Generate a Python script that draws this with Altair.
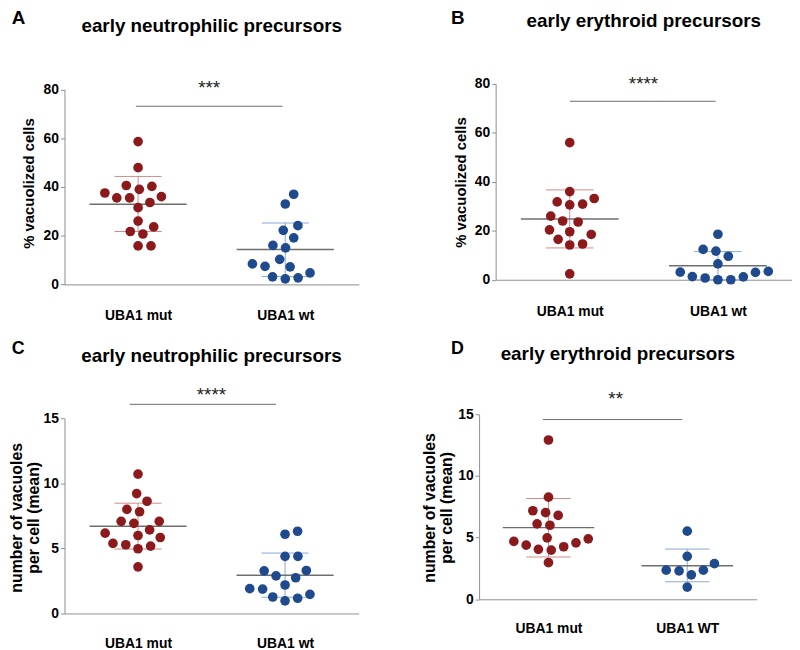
import math
import altair as alt
import pandas as pd

# ---------------- data ----------------
groups_abc = ["UBA1 mut", "UBA1 wt"]
groups_d = ["UBA1 mut", "UBA1 WT"]

a_mut = [58.6, 47.9, 40.2, 40.6, 39.0, 36.0, 35.5, 37.5, 35.5, 33.6, 31.5, 26.0, 23.6, 20.7, 21.7, 15.8, 15.8]
a_wt = [37.0, 33.0, 24.1, 22.2, 19.1, 15.0, 16.0, 10.3, 8.4, 7.2, 7.4, 3.1, 2.3, 2.7, 4.7]
a_mean = [32.9, 14.3]
a_lo = [21.7, 3.2]
a_hi = [44.3, 25.2]

b_mut = [56.0, 36.0, 31.8, 30.9, 30.6, 33.2, 26.0, 23.6, 24.0, 20.4, 18.5, 19.6, 16.5, 14.6, 14.2, 2.4]
b_wt = [18.6, 11.7, 12.4, 9.6, 6.5, 3.1, 1.2, 0.7, 0.0, 0.0, 1.3, 3.0, 3.4]
b_mean = [24.8, 5.7]
b_lo = [13.0, 0.0]
b_hi = [36.7, 11.5]

c_mut = [10.73, 9.23, 8.64, 8.01, 7.83, 7.09, 7.09, 6.94, 6.43, 6.0, 6.18, 5.39, 5.85, 5.19, 5.29, 4.98, 3.59]
c_wt = [6.33, 6.10, 4.40, 4.40, 3.31, 3.28, 2.90, 2.75, 2.19, 1.88, 1.91, 1.27, 0.97, 1.17, 1.47]
c_mean = [6.71, 2.95]
c_lo = [4.96, 1.25]
c_hi = [8.49, 4.65]

d_mut = [12.91, 8.28, 7.18, 6.80, 7.02, 6.0, 6.11, 4.90, 4.58, 4.98, 4.05, 4.39, 4.69, 3.99, 4.26, 2.97]
d_wt = [5.52, 3.48, 2.89, 2.30, 2.36, 2.36, 1.98, 0.99]
d_mean = [5.81, 2.71]
d_lo = [3.43, 1.42]
d_hi = [8.17, 4.07]

titles = ["early neutrophilic precursors", "early erythroid precursors",
          "early neutrophilic precursors", "early erythroid precursors"]
letters = ["A", "B", "C", "D"]
y_titles = ["% vacuolized cells", "% vacuolized cells",
            ["number of vacuoles", "per cell (mean)"], ["number of vacuoles", "per cell (mean)"]]
sig_labels = ["***", "****", "****", "**"]
sig_y = [73.1, 72.9, 16.1, 14.57]
star_y = [78.3, 77.5, 16.33, 15.74]
ticks_pct = [0, 20, 40, 60, 80]
ticks_num = [0, 5, 10, 15]

# ---------------- styling ----------------
FONT = "Liberation Sans, Arial, Helvetica, sans-serif"
DOT_COLORS = ["#8c1a1c", "#1f4b8e"]
ERR_COLORS = ["#cf8a8a", "#8aa6d6"]
AXIS_COLOR = "#8f8f8f"
MEAN_COLOR = "#6e6e6e"
DOT_SIZE = 95
DIAM = 13
CAP = 0.16
MEANW = 0.33
ANCHOR = (-75, -90)   # invisible layout anchor (top-left of the whole figure, relative to panel A)


def swarm(values, px_per_unit):
    """simple beeswarm: offsets (px) so that dots do not overlap"""
    order = sorted(range(len(values)), key=lambda i: values[i])
    placed = []
    xs = [0.0] * len(values)
    for i in order:
        y = values[i] * px_per_unit
        cands = [0.0]
        for px, py in placed:
            dy = y - py
            if abs(dy) < DIAM:
                dx = math.sqrt(DIAM ** 2 - dy ** 2)
                cands += [px + dx, px - dx]
        cands.sort(key=abs)
        for c in cands:
            if all((c - px) ** 2 + (y - py) ** 2 >= DIAM ** 2 - 1e-6 for px, py in placed):
                xs[i] = c
                placed.append((c, y))
                break
    return xs


def panel(cats, mut, wt, mean, lo, hi, ymax, ticks, title, letter, ytitle,
          sig_label, sigy, stary, lay, anchor=False):
    H, ytop = lay["H"], lay["ytop"]
    r0, r1 = lay["xr"]
    xs = alt.Scale(domain=[-0.5, 1.5], range=[r0, r1], nice=False, zero=False)
    ys = alt.Scale(domain=[0, ymax], range=[H, ytop], nice=False, zero=False)
    ppu_y = (H - ytop) / ymax
    ppu_x = (r1 - r0) / 2.0

    rows = []
    for gi, vals in enumerate([mut, wt]):
        offs = swarm(vals, ppu_y)
        for v, o in zip(vals, offs):
            rows.append({"g": cats[gi], "x": gi + o / ppu_x, "v": v})
    pts = pd.DataFrame(rows)

    summ = pd.DataFrame({"g": cats, "i": [0, 1], "mean": mean, "lo": lo, "hi": hi})
    summ["xa"] = summ["i"] - CAP
    summ["xb"] = summ["i"] + CAP
    summ["ma"] = summ["i"] - MEANW
    summ["mb"] = summ["i"] + MEANW
    caps = pd.concat([summ.assign(yv=summ["lo"]), summ.assign(yv=summ["hi"])])

    label_expr = "[" + ",".join("'%s'" % c for c in cats) + "][datum.value]"
    x_axis = alt.Axis(values=[0, 1], labelExpr=label_expr, ticks=False, grid=False,
                      domainColor=AXIS_COLOR, domainWidth=1, labelFont=FONT, labelFontSize=14,
                      labelFontWeight="bold", labelColor="black", labelPadding=lay["xlabpad"],
                      labelAngle=0, title=None)
    y_axis = alt.Axis(values=ticks, format="d", grid=False, domainColor=AXIS_COLOR, domainWidth=1,
                      tickColor=AXIS_COLOR, tickSize=4, labelPadding=2, labelFont=FONT,
                      labelFontSize=14, labelFontWeight="bold", labelColor="black",
                      offset=lay["yoff"],
                      title=ytitle, titleFont=FONT, titleFontSize=lay["ytfs"], titleFontWeight="bold",
                      titleColor="black", titleAngle=270, titleAlign="center",
                      titleBaseline="alphabetic", titleX=lay["tx"], titleY=lay["ty"],
                      titleLineHeight=17)

    err_color = alt.Color("g:N", scale=alt.Scale(domain=cats, range=ERR_COLORS), legend=None)
    ebar = alt.Chart(summ).mark_rule(strokeWidth=1).encode(
        x=alt.X("i:Q", scale=xs), y=alt.Y("lo:Q", scale=ys), y2="hi:Q", color=err_color)
    ecap = alt.Chart(caps).mark_rule(strokeWidth=1).encode(
        x=alt.X("xa:Q", scale=xs), x2="xb:Q", y=alt.Y("yv:Q", scale=ys), color=err_color)
    mline = alt.Chart(summ).mark_rule(strokeWidth=1.5, color=MEAN_COLOR).encode(
        x=alt.X("ma:Q", scale=xs), x2="mb:Q", y=alt.Y("mean:Q", scale=ys))
    dots = alt.Chart(pts).mark_circle(size=DOT_SIZE, opacity=1).encode(
        x=alt.X("x:Q", scale=xs, axis=x_axis),
        y=alt.Y("v:Q", scale=ys, axis=y_axis),
        color=alt.Color("g:N", scale=alt.Scale(domain=cats, range=DOT_COLORS), legend=None))

    sig = pd.DataFrame({"x0": [lay["sx0"]], "x1": [lay["sx1"]], "y": [sigy],
                        "sx": [lay["stx"]], "sy": [stary], "t": [sig_label]})
    sline = alt.Chart(sig).mark_rule(strokeWidth=1, color="#6a6a6a").encode(
        x=alt.X("x0:Q", scale=xs), x2="x1:Q", y=alt.Y("y:Q", scale=ys))
    stext = alt.Chart(sig).mark_text(font=FONT, fontSize=19, color="#222222", baseline="alphabetic",
                                     align="center").encode(
        x=alt.X("sx:Q", scale=xs), y=alt.Y("sy:Q", scale=ys), text="t:N")

    ttl = alt.Chart(pd.DataFrame({"t": [title]})).mark_text(
        font=FONT, fontSize=19, fontWeight="bold", color="black", align="center",
        baseline="alphabetic").encode(x=alt.value((r0 + r1) / 2.0), y=alt.value(ytop + lay["tdy"]),
                                      text="t:N")
    let = alt.Chart(pd.DataFrame({"t": [letter]})).mark_text(
        font=FONT, fontSize=lay["lfs"], fontWeight="bold", color="black", align="left",
        baseline="alphabetic").encode(x=alt.value(lay["lx"]), y=alt.value(lay["ly"]), text="t:N")

    layers = [ebar, ecap, mline, dots, sline, stext, ttl, let]
    if anchor:
        anc = alt.Chart(pd.DataFrame({"t": [""]})).mark_rule(strokeWidth=0, strokeOpacity=0).encode(
            x=alt.value(ANCHOR[0]), x2=alt.value(ANCHOR[0] + 1),
            y=alt.value(ANCHOR[1]), y2=alt.value(ANCHOR[1] + 1))
        layers.append(anc)
    return alt.layer(*layers).resolve_scale(color="independent").properties(width=lay["W"], height=H)


lay_a = dict(W=297, xr=(0, 297), yoff=0, H=202.3, ytop=5.6, xlabpad=24, ytfs=15, tx=-31.7, ty=100,
             sx0=-0.015, sx1=0.981, stx=0.483, tdy=-58, lfs=19, lx=-53.3, ly=-60.7)
lay_b = dict(W=299, xr=(0, 299), yoff=0, H=197.6, ytop=0, xlabpad=25, ytfs=15, tx=-30, ty=99,
             sx0=0.0, sx1=0.985, stx=0.498, tdy=-57.4, lfs=19, lx=-45, ly=-60.7)
lay_c = dict(W=296.7, xr=(0, 296.7), yoff=0, H=201, ytop=4.4, xlabpad=23, ytfs=16, tx=-43.5, ty=104,
             sx0=-0.057, sx1=0.939, stx=0.499, tdy=-57, lfs=18, lx=-53.3, ly=-61)
lay_d = dict(W=263.3, xr=(-16.7, 263.3), yoff=16.7, H=186.7, ytop=0, xlabpad=23, ytfs=16, tx=-45.3,
             ty=94, sx0=-0.04, sx1=0.964, stx=0.484, tdy=-55, lfs=18, lx=-45, ly=-61)

pa = panel(groups_abc, a_mut, a_wt, a_mean, a_lo, a_hi, 80, ticks_pct, titles[0], letters[0],
           y_titles[0], sig_labels[0], sig_y[0], star_y[0], lay_a, anchor=True)
pb = panel(groups_abc, b_mut, b_wt, b_mean, b_lo, b_hi, 80, ticks_pct, titles[1], letters[1],
           y_titles[1], sig_labels[1], sig_y[1], star_y[1], lay_b)
pc = panel(groups_abc, c_mut, c_wt, c_mean, c_lo, c_hi, 15, ticks_num, titles[2], letters[2],
           y_titles[2], sig_labels[2], sig_y[2], star_y[2], lay_c)
pd_ = panel(groups_d, d_mut, d_wt, d_mean, d_lo, d_hi, 15, ticks_num, titles[3], letters[3],
            y_titles[3], sig_labels[3], sig_y[3], star_y[3], lay_d)

# panel A plot origin wanted at page (65, 81.7); page margin is 8 px
PAD_LEFT = 65 - 8 + ANCHOR[0]
PAD_TOP = 81.7 - 8 + ANCHOR[1]

chart = alt.concat(pa, pb, pc, pd_, columns=2, spacing={"row": 130.3, "column": 138},
                   bounds="flush").properties(
    padding={"left": PAD_LEFT, "top": PAD_TOP, "right": 0, "bottom": 0}, background="white"
).configure_view(stroke=None)

chart.save("out.html", embed_options={"renderer": "svg", "actions": False})
